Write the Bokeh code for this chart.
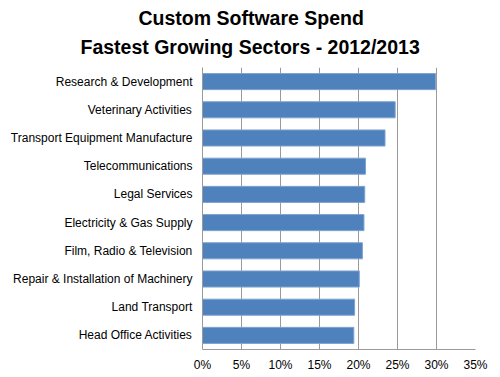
from bokeh.plotting import figure
from bokeh.models import Title, NumeralTickFormatter, FixedTicker, Range1d
from bokeh.embed import file_html
from bokeh.resources import INLINE

sectors = [
    "Research & Development",
    "Veterinary Activities",
    "Transport Equipment Manufacture",
    "Telecommunications",
    "Legal Services",
    "Electricity & Gas Supply",
    "Film, Radio & Television",
    "Repair & Installation of Machinery",
    "Land Transport",
    "Head Office Activities",
]
growth = [0.299, 0.247, 0.234, 0.209, 0.208, 0.207, 0.205, 0.201, 0.195, 0.194]
x_ticks = [0, 0.05, 0.10, 0.15, 0.20, 0.25, 0.30, 0.35]

p = figure(
    width=500, height=377,
    y_range=list(reversed(sectors)),
    x_range=Range1d(0, 0.35),
    output_backend="svg", toolbar_location=None,
    min_border_left=202, min_border_right=25, min_border_bottom=28, min_border_top=67,
)
p.title = None
t2 = Title(text="Fastest Growing Sectors - 2012/2013", align="left", offset=-122,
           text_font="Liberation Sans", text_font_size="19.5px", text_font_style="bold",
           text_color="#000000", standoff=20)
t1 = Title(text="Custom Software Spend", align="left", offset=-64,
           text_font="Liberation Sans", text_font_size="19.5px", text_font_style="bold",
           text_color="#000000", standoff=-10)
p.add_layout(t2, "above")
p.add_layout(t1, "above")

p.hbar(y=sectors, right=growth, left=0, height=0.57,
       fill_color="#4F81BD", line_color="#7EA3D1", line_width=1)

p.outline_line_color = None
p.ygrid.grid_line_color = None
p.xgrid.grid_line_color = "#9A9A9A"
p.xgrid.grid_line_width = 1
p.xaxis.ticker = FixedTicker(ticks=x_ticks)
p.xaxis.formatter = NumeralTickFormatter(format="0%")
for ax in (p.xaxis, p.yaxis):
    ax.axis_line_color = "#9A9A9A"
    ax.major_tick_line_color = "#9A9A9A"
    ax.minor_tick_line_color = None
    ax.major_label_text_font = "Liberation Sans"
    ax.major_label_text_font_size = "12px"
    ax.major_label_text_color = "#000000"
p.xaxis.major_tick_out = 0
p.xaxis.major_tick_in = 0
p.yaxis.major_tick_out = 0
p.yaxis.major_tick_in = 0
p.yaxis.major_label_standoff = 10
p.xaxis.major_label_standoff = 8

open("out.html", "w").write(file_html(p, INLINE))
